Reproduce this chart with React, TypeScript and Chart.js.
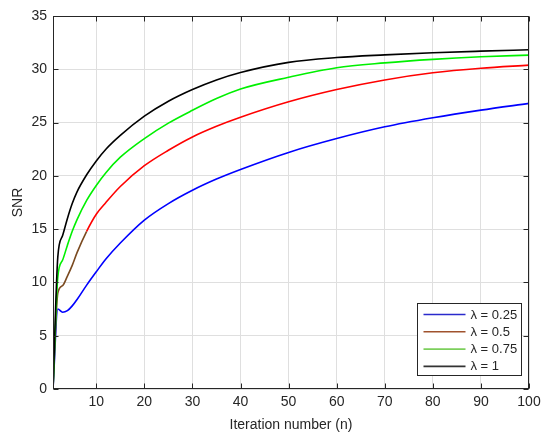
import React, { useEffect, useRef } from "react";
import { Chart, registerables } from "chart.js";

Chart.register(...registerables);

// ---- data ----
const X_VALUES = [1, 2, 3, 4, 5, 6, 8, 10, 12, 15, 20, 25, 30, 35, 40, 50, 60, 70, 80, 90, 100];
const SNR_LAMBDA_025 = [0, 7.5, 7.2, 7.35, 7.8, 8.4, 9.75, 11.0, 12.2, 13.7, 15.85, 17.4, 18.65, 19.7, 20.6, 22.2, 23.5, 24.6, 25.45, 26.17, 26.8];
const SNR_LAMBDA_05 = [0, 9.0, 9.7, 10.6, 11.6, 12.8, 14.8, 16.4, 17.5, 19.0, 20.95, 22.4, 23.65, 24.65, 25.5, 26.95, 28.1, 29.0, 29.67, 30.1, 30.39];
const SNR_LAMBDA_075 = [0, 10.5, 12.1, 13.5, 14.8, 15.9, 17.7, 19.1, 20.3, 21.75, 23.5, 24.95, 26.15, 27.25, 28.15, 29.25, 30.15, 30.6, 30.93, 31.17, 31.33];
const SNR_LAMBDA_1 = [0, 12.4, 14.4, 16.0, 17.4, 18.5, 20.1, 21.4, 22.5, 23.8, 25.6, 27.0, 28.1, 29.0, 29.7, 30.65, 31.1, 31.35, 31.55, 31.7, 31.83];

const SERIES_LABELS = ["λ = 0.25", "λ = 0.5", "λ = 0.75", "λ = 1"];
const SERIES_COLORS = ["#0000ff", "#ff0000", "#00f000", "#000000"];
const LEGEND_COLORS = ["#2a2acc", "#a0522d", "#7ccf5c", "#333333"];
const X_TICKS = [10, 20, 30, 40, 50, 60, 70, 80, 90, 100];
const Y_TICKS = [0, 5, 10, 15, 20, 25, 30, 35];

const FONT = "'Liberation Sans', Arial, Helvetica, sans-serif";
const TEXT_COLOR = "#262626";
const AXIS_COLOR = "#262626";
const GRID_COLOR = "#dfdfdf";
const BROWN = "#7a4a20";

const matlabPlugin = {
  id: "matlabDecor",
  afterDatasetsDraw(chart: any) {
    const { ctx, chartArea: a } = chart;
    const xs = chart.scales.x;
    const ys = chart.scales.y;
    ctx.save();
    ctx.strokeStyle = AXIS_COLOR;
    ctx.lineWidth = 1;
    const L = Math.round(a.left) + 0.5;
    const R = Math.round(a.right) - 0.5;
    const T = Math.round(a.top) + 0.5;
    const B = Math.round(a.bottom) - 0.5;
    ctx.strokeRect(L, T, R - L, B - T);
    const tl = 5;
    ctx.beginPath();
    xs.ticks.forEach((t: any) => {
      const px = Math.round(xs.getPixelForValue(t.value)) + 0.5;
      ctx.moveTo(px, B);
      ctx.lineTo(px, B - tl);
      ctx.moveTo(px, T);
      ctx.lineTo(px, T + tl);
    });
    ys.ticks.forEach((t: any) => {
      const py = Math.round(ys.getPixelForValue(t.value)) + 0.5;
      ctx.moveTo(L, py);
      ctx.lineTo(L + tl, py);
      ctx.moveTo(R, py);
      ctx.lineTo(R - tl, py);
    });
    ctx.stroke();

    // legend box
    const w = 104;
    const h = 72;
    const x0 = Math.round(a.right - 8 - w) + 0.5;
    const y0 = Math.round(a.bottom - 14 - h) + 0.5;
    ctx.fillStyle = "#ffffff";
    ctx.fillRect(x0, y0, w, h);
    ctx.strokeStyle = AXIS_COLOR;
    ctx.lineWidth = 1;
    ctx.strokeRect(x0, y0, w, h);
    ctx.font = `13px ${FONT}`;
    ctx.textBaseline = "middle";
    ctx.textAlign = "left";
    chart.data.datasets.forEach((ds: any, i: number) => {
      const cy = y0 + 11 + i * 17.3;
      ctx.strokeStyle = LEGEND_COLORS[i];
      ctx.lineWidth = 1.6;
      ctx.beginPath();
      ctx.moveTo(x0 + 6, cy);
      ctx.lineTo(x0 + 48, cy);
      ctx.stroke();
      ctx.fillStyle = TEXT_COLOR;
      ctx.fillText(ds.label, x0 + 53, cy + 0.5);
    });
    ctx.restore();
  },
};

export default function App() {
  const ref = useRef<HTMLCanvasElement>(null);
  useEffect(() => {
    if (!ref.current) return;
    const seriesValues = [SNR_LAMBDA_025, SNR_LAMBDA_05, SNR_LAMBDA_075, SNR_LAMBDA_1];
    const datasets = seriesValues.map((vals, i) => ({
      label: SERIES_LABELS[i],
      data: X_VALUES.map((x, j) => ({ x, y: vals[j] })),
      borderColor: SERIES_COLORS[i],
      backgroundColor: SERIES_COLORS[i],
      borderWidth: 1.6,
      pointRadius: 0,
      fill: false,
      cubicInterpolationMode: "monotone" as const,
      order: 4 - i,
      segment:
        i === 1
          ? { borderColor: (c: any) => (c.p1.parsed.x <= 8 ? BROWN : undefined) }
          : undefined,
    }));
    const chart = new Chart(ref.current, {
      type: "line",
      data: { datasets },
      plugins: [matlabPlugin],
      options: {
        animation: false,
        responsive: false,
        devicePixelRatio: 1,
        layout: { padding: { top: 16, right: 21, bottom: 0, left: 0 } },
        plugins: { legend: { display: false }, tooltip: { enabled: false } },
        scales: {
          x: {
            type: "linear",
            min: 1,
            max: 100,
            afterBuildTicks: (s: any) => {
              s.ticks = X_TICKS.map((v) => ({ value: v }));
            },
            afterFit: (s: any) => {
              s.height = 52;
            },
            grid: { color: GRID_COLOR, drawTicks: false },
            border: { display: false },
            ticks: {
              padding: 5,
              color: TEXT_COLOR,
              font: { family: FONT, size: 14 },
              maxRotation: 0,
            },
            title: {
              display: true,
              text: "Iteration number (n)",
              color: TEXT_COLOR,
              font: { family: FONT, size: 14 },
              padding: { top: 0, bottom: 7 },
            },
          },
          y: {
            type: "linear",
            min: 0,
            max: 35,
            afterBuildTicks: (s: any) => {
              s.ticks = Y_TICKS.map((v) => ({ value: v }));
            },
            afterFit: (s: any) => {
              s.width = 53;
            },
            grid: { color: GRID_COLOR, drawTicks: false },
            border: { display: false },
            ticks: {
              padding: 6,
              color: TEXT_COLOR,
              font: { family: FONT, size: 14 },
            },
            title: {
              display: true,
              text: "SNR",
              color: TEXT_COLOR,
              font: { family: FONT, size: 14 },
              padding: { top: 10, bottom: 0 },
            },
          },
        },
      },
    });
    return () => chart.destroy();
  }, []);
  return (
    <div style={{ position: "fixed", left: 0, top: 0, width: 550, height: 441, background: "#fff" }}>
      <canvas ref={ref} width={550} height={441} />
    </div>
  );
}
